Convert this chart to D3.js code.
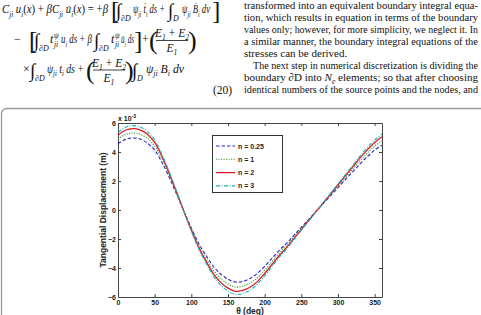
<!DOCTYPE html>
<html><head><meta charset="utf-8">
<script src="https://cdn.jsdelivr.net/npm/d3@7"></script>
<style>body{margin:0;background:#fff}svg{display:block}</style>
</head><body><svg id="c" width="481" height="315"></svg>
<script>
// ---------- data ----------
const theta = [0,10,20,30,40,50,60,70,80,90,100,110,120,130,140,150,160,170,180,190,200,210,220,230,240,250,260,270,280,290,300,310,320,330,340,350,360];
const n025 = [4.57,4.87,4.97,4.90,4.62,4.13,3.28,2.24,1.09,-0.10,-1.24,-2.29,-3.13,-3.88,-4.42,-4.77,-4.97,-4.92,-4.72,-4.37,-3.88,-3.33,-2.78,-2.29,-1.74,-1.19,-0.65,-0.10,0.45,0.99,1.54,2.09,2.63,3.18,3.68,4.13,4.47];
const n1   = [4.89,5.20,5.31,5.23,4.94,4.41,3.50,2.39,1.17,-0.11,-1.33,-2.44,-3.35,-4.14,-4.73,-5.10,-5.31,-5.26,-5.04,-4.67,-4.14,-3.56,-2.97,-2.44,-1.86,-1.27,-0.69,-0.11,0.48,1.06,1.65,2.23,2.81,3.40,3.93,4.41,4.78];
const n2   = [5.16,5.50,5.61,5.53,5.22,4.66,3.70,2.52,1.23,-0.11,-1.40,-2.58,-3.53,-4.38,-4.99,-5.39,-5.61,-5.55,-5.33,-4.94,-4.38,-3.76,-3.14,-2.58,-1.96,-1.35,-0.73,-0.11,0.50,1.12,1.74,2.36,2.97,3.59,4.15,4.66,5.05];
const n3   = [5.35,5.70,5.82,5.73,5.41,4.83,3.84,2.62,1.28,-0.12,-1.46,-2.68,-3.67,-4.54,-5.18,-5.59,-5.82,-5.76,-5.53,-5.12,-4.54,-3.90,-3.26,-2.68,-2.04,-1.40,-0.76,-0.12,0.52,1.16,1.80,2.44,3.08,3.72,4.31,4.83,5.24];
const seriesNames = ['n = 0.25','n = 1','n = 2','n = 3'];
const xTicks = [0,50,100,150,200,250,300,350];
const yTicks = [-6,-4,-2,0,2,4,6];
const paragraph = [
  'transformed into an equivalent boundary integral equa-',
  'tion, which results in equation in terms of the boundary',
  'values only; however, for more simplicity, we neglect it. In',
  'a similar manner, the boundary integral equations of the',
  'stresses can be derived.',
  'The next step in numerical discretization is dividing the',
  'boundary \u2202D into N_e elements; so that after choosing',
  'identical numbers of the source points and the nodes, and'
];

// ---------- page ----------
const svg = d3.select('#c');
const serif = "'Liberation Serif','Times New Roman',serif";
const sans = "'Liberation Sans',Arial,sans-serif";
const ink = '#111';
svg.append('rect').attr('width',481).attr('height',315).attr('fill','#fff');

// right column paragraph
paragraph.forEach((line, i) => {
  const yy = 9 + i * 12;
  const indent = i === 5 ? 9 : 0;
  const t = svg.append('text').attr('x', 244 + indent).attr('y', yy)
    .attr('font-family', serif).attr('font-size', 11).attr('fill', ink);
  if (line.includes('N_e')) {
    const [a, b] = line.split('N_e');
    t.append('tspan').text(a);
    t.append('tspan').text('N').attr('font-style','italic');
    t.append('tspan').text('e').attr('font-style','italic').attr('font-size',7.5).attr('dy',2.5);
    t.append('tspan').text(b).attr('dy',-2.5);
  } else t.text(line);
  if (i !== 4) t.attr('textLength', 234 - indent).attr('lengthAdjust', 'spacingAndGlyphs');
});

// equation helpers
function mathText(x, y, parts, size = 12, width) {
  const t = svg.append('text').attr('x', x).attr('y', y)
    .attr('font-family', serif).attr('font-size', size).attr('fill', ink);
  let shift = 0;
  parts.forEach(([s, k]) => {
    const target = k === 's' ? size * 0.3 : k === 'S' ? -size * 0.45 : 0;
    const ts = t.append('tspan').text(s).attr('dy', target - shift);
    shift = target;
    ts.attr('font-style', k === 'r' ? 'normal' : 'italic');
    if (k === 's' || k === 'S') ts.attr('font-size', size * 0.66);
  });
  if (width) t.attr('textLength', width).attr('lengthAdjust', 'spacingAndGlyphs');
  return t;
}
function big(x, y, ch, size, style) {
  return svg.append('text').attr('x', x).attr('y', y).attr('font-family', serif)
    .attr('font-size', size).attr('fill', ink).attr('font-style', style || 'normal').text(ch);
}
function integral(x, y, sub) {
  big(x, y + 4, '\u222B', 19, 'normal');
  if (sub) mathText(x + 5, y + 8, [[sub, 'i']], 8);
}
function tpsi(x, y) {
  mathText(x, y, [['t', 'i']]);
  mathText(x + 4, y - 5, [['\u03C8', 'i']], 7.5);
  mathText(x + 4, y + 3.5, [['ji', 'i']], 7.5);
}
function frac(cx, y) {
  mathText(cx, y - 6, [['E', 'i'], ['1', 's'], [' + ', 'r'], ['E', 'i'], ['2', 's']], 11.5).attr('text-anchor', 'middle');
  svg.append('line').attr('x1', cx - 16).attr('x2', cx + 16).attr('y1', y - 2.5).attr('y2', y - 2.5)
    .attr('stroke', ink).attr('stroke-width', 0.8);
  mathText(cx, y + 9, [['E', 'i'], ['1', 's']], 11.5).attr('text-anchor', 'middle');
}

// line 1
let Y = 13;
mathText(2, Y, [['C','i'],['ji','s'],[' u','i'],['i','s'],['(','r'],['x','i'],[') + ','r'],['\u03B2','i'],['C','i'],['ji','s'],[' u\u0307','i'],['i','s'],['(','r'],['x','i'],[') = +','r'],['\u03B2','i']], 12, 106);
big(111, Y + 6, '[', 25);
integral(116, Y, '\u2202D');
mathText(133, Y, [['\u03C8','i'],['ji','s'],[' \u1E6B','i'],['i','s'],[' ds +','i']], 12, 32);
integral(168, Y, 'D');
mathText(182, Y, [['\u03C8','i'],['ji','s'],[' \u1E02','i'],['i','s'],[' dv','i']], 12, 28);
big(212, Y + 6, ']', 25);

// line 2
Y = 43;
big(14, Y, '\u2212', 12);
big(29, Y + 6, '[', 25);
integral(34, Y, '\u2202D');
tpsi(50, Y);
mathText(61, Y, [['u','i'],['i','s'],[' ds + ','i'],['\u03B2','i']], 12, 31);
integral(94, Y, '\u2202D');
tpsi(111, Y);
mathText(121, Y, [['u\u0307','i'],['i','s'],[' ds','i']], 12, 13);
big(134, Y + 6, ']', 25);
big(142, Y, '+', 12);
big(149, Y + 6, '(', 26);
frac(172, Y);
big(188, Y + 6, ')', 26);

// line 3
Y = 72.5;
big(23, Y, '\u00D7', 12);
integral(30, Y, '\u2202D');
mathText(47, Y, [['\u03C8','i'],['ji','s'],[' t','i'],['i','s'],[' ds +','i']], 12, 37);
big(86, Y + 6, '(', 26);
frac(109, Y);
big(125, Y + 6, ')', 26);
integral(132, Y, 'D');
mathText(146, Y, [['\u03C8','i'],['ji','s'],[' B','i'],['i','s'],[' dv','i']], 12, 38);

big(213, 93.5, '(20)', 11.5);

// figure frame
svg.append('rect').attr('x', 1.5).attr('y', 108.5).attr('width', 520).attr('height', 240)
  .attr('rx', 5).attr('fill', 'none').attr('stroke', '#9a9a9a').attr('stroke-width', 1.3);

// ---------- chart ----------
const x = d3.scaleLinear().domain([0, 360]).range([118, 382]);
const y = d3.scaleLinear().domain([-6, 6]).range([297, 123]);
const axisCol = '#444';
const tickFont = g => g.selectAll('text').attr('font-family', sans).attr('font-weight', 'bold')
  .attr('font-size', 7).attr('fill', '#222');

const gx = svg.append('g').attr('transform', `translate(0,${y(-6)})`)
  .call(d3.axisBottom(x).tickValues(xTicks).tickSizeInner(-3).tickSizeOuter(0).tickPadding(3).tickFormat(d3.format('d')));
gx.call(tickFont);
const gxt = svg.append('g').attr('transform', `translate(0,${y(6)})`)
  .call(d3.axisTop(x).tickValues(xTicks).tickSizeInner(-3).tickSizeOuter(0).tickFormat(''));
const gy = svg.append('g').attr('transform', `translate(${x(0)},0)`)
  .call(d3.axisLeft(y).tickValues(yTicks).tickSizeInner(-3).tickSizeOuter(0).tickPadding(2).tickFormat(d3.format('d')));
gy.call(tickFont);
const gyr = svg.append('g').attr('transform', `translate(${x(360)},0)`)
  .call(d3.axisRight(y).tickValues(yTicks).tickSizeInner(-3).tickSizeOuter(0).tickFormat(''));
[gx, gxt, gy, gyr].forEach(g => {
  g.selectAll('path,line').attr('stroke', axisCol).attr('stroke-width', 1);
});
gy.selectAll('.tick').filter(d => d === 6 || d === -6).select('line').remove();

// exponent label
const ex = svg.append('text').attr('x', x(0)).attr('y', y(6) - 2).attr('font-family', sans)
  .attr('font-weight', 'bold').attr('font-size', 7).attr('fill', '#222');
ex.append('tspan').text('x 10');
ex.append('tspan').text('-3').attr('font-size', 5).attr('dy', -3);

// series
const series = [
  { name: seriesNames[0], vals: n025, color: '#2222cc', dash: '3.5,2', w: 1.1 },
  { name: seriesNames[1], vals: n1, color: '#3a9a3a', dash: '1.2,1.3', w: 1.1 },
  { name: seriesNames[2], vals: n2, color: '#e01a1a', dash: null, w: 1.3 },
  { name: seriesNames[3], vals: n3, color: '#19b5bf', dash: '4,1.5,1,1.5', w: 1.1 }
];
const line = d3.line().x(d => x(d[0])).y(d => y(d[1])).curve(d3.curveCatmullRom);
series.forEach(s => {
  svg.append('path').datum(theta.map((t, i) => [t, s.vals[i]]))
    .attr('d', line).attr('fill', 'none').attr('stroke', s.color)
    .attr('stroke-width', s.w).attr('stroke-dasharray', s.dash);
});

// legend
svg.append('rect').attr('x', 212.5).attr('y', 135.5).attr('width', 70).attr('height', 57)
  .attr('fill', '#fff').attr('stroke', '#333').attr('stroke-width', 1);
series.forEach((s, i) => {
  const ly = 146 + i * 13.3;
  svg.append('line').attr('x1', 216).attr('x2', 235).attr('y1', ly).attr('y2', ly)
    .attr('stroke', s.color).attr('stroke-width', s.w).attr('stroke-dasharray', s.dash);
  svg.append('text').attr('x', 238).attr('y', ly + 2.5).attr('font-family', sans)
    .attr('font-weight', 'bold').attr('font-size', 7).attr('fill', '#222').text(s.name);
});

// axis labels
svg.append('text').attr('x', (x(0) + x(360)) / 2).attr('y', 314).attr('text-anchor', 'middle')
  .attr('font-family', sans).attr('font-weight', 'bold').attr('font-size', 8.5).attr('fill', '#222')
  .text('\u03B8 (deg)');
svg.append('text').attr('transform', `translate(106,${(y(-6) + y(6)) / 2}) rotate(-90)`)
  .attr('text-anchor', 'middle').attr('font-family', sans).attr('font-weight', 'bold')
  .attr('font-size', 8.5).attr('fill', '#222').text('Tangential Displacement (m)');
</script></body></html>
